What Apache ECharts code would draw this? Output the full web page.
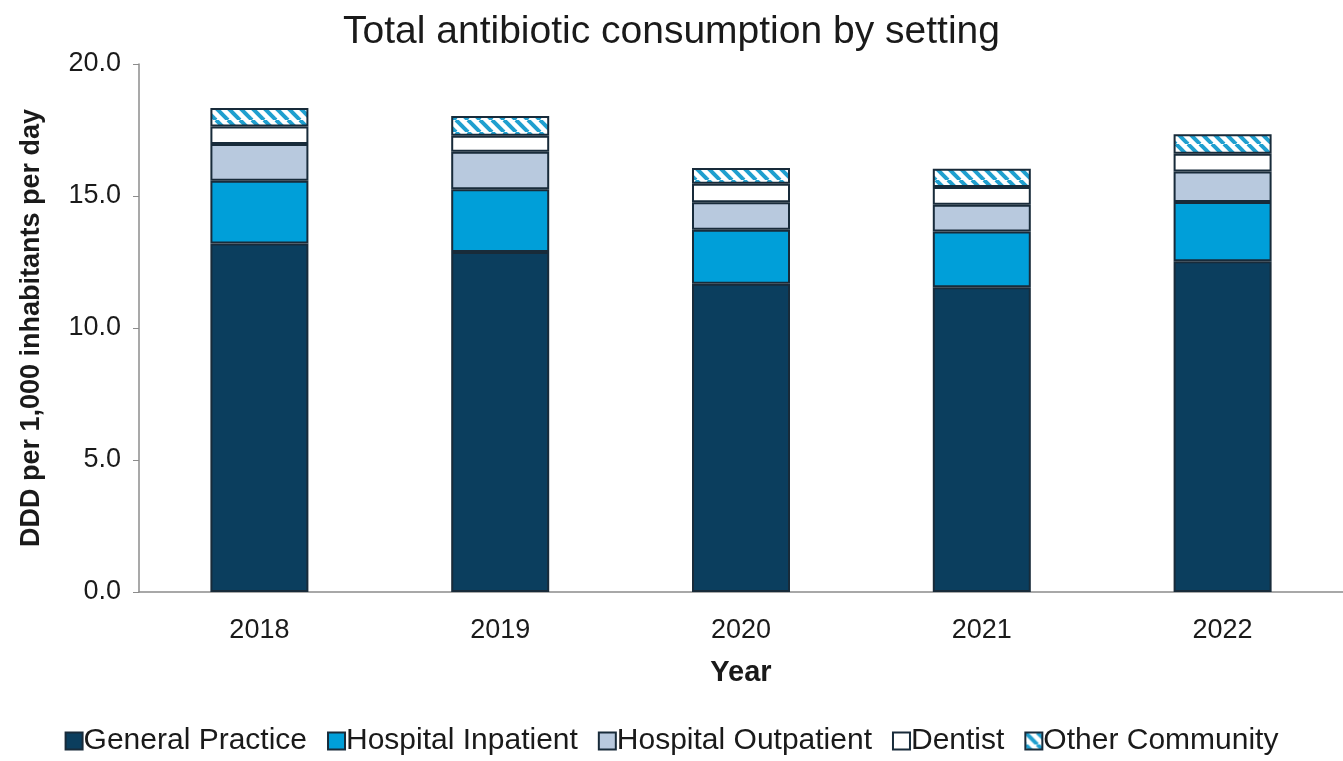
<!DOCTYPE html>
<html>
<head>
<meta charset="utf-8">
<script src="https://cdn.jsdelivr.net/npm/echarts@6/dist/echarts.min.js"></script>
<style>html,body{margin:0;padding:0;background:#fff;}#c{width:1343px;height:761px;}</style>
</head>
<body>
<div id="c"></div>
<script>
const years = ['2018', '2019', '2020', '2021', '2022'];
const generalPractice = [13.2, 12.88, 11.68, 11.54, 12.53];
const hospitalInpatient = [2.38, 2.38, 2.04, 2.12, 2.24];
const hospitalOutpatient = [1.39, 1.42, 1.04, 1.01, 1.16];
const dentist = [0.66, 0.60, 0.70, 0.67, 0.67];
const otherCommunity = [0.70, 0.75, 0.60, 0.69, 0.74];
const yTicks = [0, 5, 10, 15, 20];

function hatch() {
  const c = document.createElement('canvas');
  c.width = 12; c.height = 12;
  const g = c.getContext('2d');
  g.fillStyle = '#ffffff'; g.fillRect(0, 0, 12, 12);
  g.strokeStyle = '#1f9fcf'; g.lineWidth = 4;
  for (let k = -12; k <= 24; k += 12) {
    g.beginPath(); g.moveTo(k, 0); g.lineTo(k + 12, 12); g.stroke();
  }
  return { image: c, repeat: 'repeat' };
}

const font = 'Liberation Sans, Arial, sans-serif';
const border = { borderColor: '#182b3a', borderWidth: 2 };
function s(name, data, color) {
  return { name, type: 'bar', stack: 'a', data, barWidth: 98,
    itemStyle: Object.assign({ color }, border) };
}
const chart = echarts.init(document.getElementById('c'));
chart.setOption({
  animation: false,
  backgroundColor: '#fff',
  title: { text: 'Total antibiotic consumption by setting', left: 'center', top: 8,
    textStyle: { fontFamily: font, fontSize: 39, fontWeight: 'normal', color: '#1a1a1a' } },
  grid: { left: 139, right: -13, top: 64, bottom: 169 },
  legend: { bottom: 0, left: 'center', itemWidth: 17, itemHeight: 17, itemGap: 20,
    icon: 'rect',
    textStyle: { fontFamily: font, fontSize: 30, color: '#1a1a1a', padding: [0, 0, 0, -4] },
    data: ['General Practice', 'Hospital Inpatient', 'Hospital Outpatient', 'Dentist', 'Other Community'] },
  xAxis: { type: 'category', data: years,
    name: 'Year', nameLocation: 'middle', nameGap: 66,
    nameTextStyle: { fontFamily: font, fontSize: 29, fontWeight: 'bold', color: '#1a1a1a' },
    axisLine: { lineStyle: { color: '#8c8c8c', width: 1.5 } },
    axisTick: { show: false },
    axisLabel: { fontFamily: font, fontSize: 27, color: '#1a1a1a', margin: 25 } },
  yAxis: { type: 'value', min: 0, max: 20, interval: 5,
    name: 'DDD per 1,000 inhabitants per day', nameLocation: 'middle', nameGap: 94,
    nameTextStyle: { fontFamily: font, fontSize: 27, fontWeight: 'bold', color: '#1a1a1a' },
    axisLine: { show: true, lineStyle: { color: '#8c8c8c', width: 1.5 } },
    axisTick: { show: true, length: 6, lineStyle: { color: '#8c8c8c' } },
    splitLine: { show: false },
    axisLabel: { fontFamily: font, fontSize: 27, color: '#1a1a1a', margin: 18,
      formatter: v => yTicks.includes(v) ? v.toFixed(1) : '' } },
  series: [
    s('General Practice', generalPractice, '#0b3e5e'),
    s('Hospital Inpatient', hospitalInpatient, '#009fd9'),
    s('Hospital Outpatient', hospitalOutpatient, '#b8c9de'),
    s('Dentist', dentist, '#ffffff'),
    s('Other Community', otherCommunity, hatch())
  ]
});
</script>
</body>
</html>
